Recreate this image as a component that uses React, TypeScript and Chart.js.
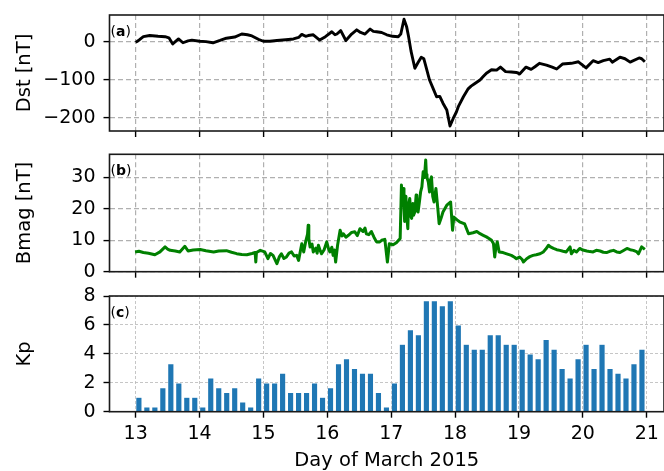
import React, { useEffect, useRef } from 'react';
import { Chart, registerables } from 'chart.js';

Chart.register(...registerables);

// ---------- data ----------
const xTicks = [13, 14, 15, 16, 17, 18, 19, 20, 21];
const xTitle = 'Day of March 2015';

const dstTicks = [0, -100, -200];
const dstTime = [
  13.0, 13.06, 13.12, 13.22, 13.35, 13.46, 13.52, 13.58, 13.67, 13.74, 13.82, 13.88,
  14.0, 14.1, 14.21, 14.32, 14.42, 14.55, 14.66, 14.75, 14.82, 14.92,
  15.0, 15.1, 15.21, 15.35, 15.47, 15.55, 15.6, 15.66, 15.7, 15.78, 15.88, 15.97,
  16.07, 16.12, 16.15, 16.21, 16.29, 16.38, 16.46, 16.52, 16.59, 16.67, 16.72, 16.77, 16.85, 16.93,
  17.02, 17.11, 17.15, 17.2, 17.24, 17.27, 17.31, 17.37, 17.42, 17.47, 17.51, 17.55, 17.6, 17.66,
  17.71, 17.76, 17.81, 17.87, 17.92, 17.97,
  18.02, 18.05, 18.13, 18.2, 18.25, 18.31, 18.39, 18.44, 18.49, 18.57, 18.65, 18.71, 18.79, 18.88, 18.96,
  19.01, 19.11, 19.19, 19.25, 19.32, 19.43, 19.52, 19.59, 19.68, 19.82, 19.93,
  20.05, 20.16, 20.24, 20.32, 20.42, 20.46, 20.58, 20.66, 20.74, 20.88, 20.92, 20.97,
];
const dstValues = [
  -2, 5, 13, 16, 14, 13, 10, -6, 7, -3, 2, 4,
  1, 0, -3, 3, 9, 12, 20, 18, 15, 6,
  1, 1, 3, 5, 7, 11, 19, 14, 16, 18, 4, 13,
  26, 18, 20, 29, 3, 20, 31, 24, 20, 33, 27, 26, 24, 18,
  14, 13, 20, 59, 40, 15, -25, -70, -55, -41, -45, -70, -101, -125,
  -145, -144, -162, -180, -222, -202,
  -185, -171, -145, -125, -117, -110, -101, -92, -83, -74, -75, -67, -79, -80, -81,
  -85, -67, -73, -66, -57, -62, -67, -72, -59, -57, -53,
  -69, -50, -55, -50, -46, -54, -41, -45, -54, -43, -45, -53,
];

const bmagTicks = [0, 10, 20, 30];
const bmagTime = [
  12.99, 13.05, 13.12, 13.2, 13.3, 13.38, 13.46, 13.5, 13.54, 13.62, 13.69, 13.77, 13.82, 13.9,
  14.01, 14.1, 14.22, 14.3, 14.42, 14.5, 14.58, 14.66, 14.74, 14.82, 14.87, 14.88, 14.89, 14.95,
  15.02, 15.07, 15.11, 15.15, 15.21, 15.25, 15.28, 15.32, 15.36, 15.4, 15.44, 15.48, 15.52, 15.55,
  15.6, 15.63, 15.66, 15.69, 15.7, 15.71, 15.73, 15.76, 15.78, 15.82, 15.84, 15.86, 15.89, 15.91, 15.95, 15.99,
  16.02, 16.04, 16.07, 16.09, 16.11, 16.13, 16.16, 16.2, 16.23, 16.25, 16.29, 16.33, 16.38, 16.43,
  16.47, 16.51, 16.56, 16.59, 16.61, 16.65, 16.69, 16.73, 16.77, 16.82, 16.85, 16.9, 16.94, 16.97,
  17.03, 17.08, 17.14, 17.16, 17.17, 17.19, 17.2, 17.21, 17.23, 17.24, 17.26, 17.27, 17.29, 17.31,
  17.32, 17.34, 17.35, 17.37, 17.39, 17.4, 17.42, 17.44, 17.46, 17.48, 17.5, 17.52, 17.54, 17.55,
  17.56, 17.58, 17.6, 17.61, 17.63, 17.65, 17.67, 17.7, 17.73, 17.75, 17.78, 17.81, 17.87, 17.93,
  17.96, 17.98,
  18.03, 18.07, 18.15, 18.21, 18.28, 18.34, 18.39, 18.44, 18.49, 18.53, 18.57, 18.6, 18.62, 18.64,
  18.66, 18.69, 18.75, 18.82, 18.88, 18.93, 18.96,
  19.01, 19.05, 19.07, 19.12, 19.17, 19.22, 19.27, 19.33, 19.38, 19.42, 19.46, 19.5, 19.54, 19.59,
  19.64, 19.69, 19.74, 19.8, 19.82, 19.86, 19.9, 19.95,
  20.0, 20.06, 20.11, 20.16, 20.21, 20.27, 20.32, 20.37, 20.42, 20.48, 20.53, 20.58, 20.63, 20.69,
  20.74, 20.79, 20.84, 20.87, 20.92, 20.97,
];
const bmagValues = [
  6.3, 6.5, 6.1, 5.9, 5.4, 6.3, 7.9, 7.2, 6.8, 6.6, 6.3, 8.1, 6.6, 6.9,
  7.1, 6.7, 6.3, 6.6, 6.7, 6.2, 5.75, 5.5, 5.4, 5.8, 6.1, 3.1, 6.1, 6.8,
  6.3, 4.15, 5.8, 5.2, 2.55, 4.8, 5.7, 4.2, 4.7, 5.9, 6.3, 5.0, 5.2, 3.6,
  8.9, 6.3, 9.5, 12.0, 14.8, 10.5, 7.9, 8.8, 6.3, 7.5, 5.9, 8.4, 6.6, 5.7, 7.0, 9.5,
  7.2, 6.3, 7.8, 5.2, 6.9, 3.1, 8.4, 13.2, 11.4, 12.1, 11.0, 11.6, 12.5, 12.7,
  11.5, 13.7, 12.8, 13.9, 12.1, 11.8, 12.8, 11.0, 9.5, 9.5, 10.0, 10.3, 3.1, 8.9,
  8.6, 9.2, 10.6, 27.6, 22.0, 26.5, 20.5, 16.0, 24.0, 18.5, 13.7, 21.0, 23.3, 17.5,
  17.0, 21.7, 18.0, 19.0, 24.4, 20.0, 19.0, 22.0, 25.4, 27.0, 31.8, 30.0, 35.6, 31.0,
  30.0, 28.6, 25.4, 29.0, 30.2, 24.0, 22.2, 26.5, 20.0, 15.3, 17.0, 19.0, 21.2, 22.2,
  13.2, 17.4,
  16.5, 15.9, 15.2, 12.1, 12.4, 12.8, 12.1, 11.6, 11.1, 10.6, 10.0, 9.0, 4.7, 8.0,
  9.5, 6.3, 6.1, 5.6, 5.2, 4.6, 4.15,
  4.7, 3.9, 3.1, 4.15, 4.8, 5.2, 5.4, 5.7, 6.3, 7.2, 8.4, 7.8, 7.4, 7.0,
  6.8, 6.5, 6.3, 7.9, 5.7, 6.8, 6.3, 7.4,
  6.9, 6.6, 6.4, 6.3, 6.8, 6.6, 6.2, 6.1, 6.5, 6.8, 6.3, 6.1, 6.7, 7.4,
  7.0, 6.8, 6.4, 5.7, 7.9, 7.1,
];

const kpTicks = [0, 2, 4, 6, 8];
const kpStart = 13; // first 3-hour interval (day of March)
const kpStepDays = 0.125; // 3-hour cadence
const kpBarWidthDays = 0.1;
const kpValues = [
  1.0, 0.33, 0.33, 1.67, 3.33, 2.0, 1.0, 1.0,
  0.33, 2.33, 1.67, 1.33, 1.67, 0.67, 0.33, 2.33,
  2.0, 2.0, 2.67, 1.33, 1.33, 1.33, 2.0, 1.0,
  1.67, 3.33, 3.67, 3.0, 2.67, 2.67, 1.33, 0.33,
  2.0, 4.67, 5.67, 5.33, 7.67, 7.67, 7.33, 7.67,
  6.0, 4.67, 4.33, 4.33, 5.33, 5.33, 4.67, 4.67,
  4.33, 4.0, 3.67, 5.0, 4.33, 3.0, 2.33, 3.67,
  4.67, 3.0, 4.67, 3.0, 2.67, 2.33, 3.33, 4.33,
];

// ---------- style ----------
const FONT = "'DejaVu Sans', 'Liberation Sans', sans-serif";
const TICK_SIZE = 19;
const TITLE_SIZE = 19.5;
const X_MIN = 12.59;
const X_MAX = 21.27;
const Y_AXIS_WIDTH = 109.5;
const W = 664;

type GridStyle = { color: string; width: number; dash: number[] };
const gridAB: GridStyle = { color: '#b0b0b0', width: 1.2, dash: [5, 3] };
const gridC: GridStyle = { color: '#b8b8b8', width: 0.8, dash: [3, 2] };

function xScale(height: number, showLabels: boolean, g: GridStyle) {
  return {
    type: 'linear',
    min: X_MIN,
    max: X_MAX,
    offset: false,
    afterBuildTicks: (s: any) => {
      s.ticks = xTicks.map((v) => ({ value: v }));
    },
    afterFit: (s: any) => {
      s.height = height;
      s.paddingLeft = 0;
      s.paddingRight = 0;
    },
    grid: {
      color: g.color,
      lineWidth: g.width,
      offset: false,
      drawTicks: true,
      tickLength: 6,
      tickColor: '#000',
      tickWidth: 1.4,
      tickBorderDash: [],
    },
    border: { display: false, dash: g.dash },
    ticks: {
      display: showLabels,
      autoSkip: false,
      maxRotation: 0,
      padding: 5,
      color: '#000',
      font: { family: FONT, size: TICK_SIZE },
      callback: (v: any) => String(v),
    },
    title: showLabels
      ? {
          display: true,
          text: xTitle,
          color: '#000',
          font: { family: FONT, size: TITLE_SIZE, lineHeight: 1 },
          padding: { top: 0, bottom: 0 },
        }
      : { display: false },
  };
}

function yScale(min: number, max: number, ticks: number[], title: string, g: GridStyle) {
  return {
    type: 'linear',
    min,
    max,
    afterBuildTicks: (s: any) => {
      s.ticks = ticks.map((v) => ({ value: v }));
    },
    afterFit: (s: any) => {
      s.width = Y_AXIS_WIDTH;
      s.paddingTop = 0;
      s.paddingBottom = 0;
    },
    grid: {
      color: g.color,
      lineWidth: g.width,
      drawTicks: true,
      tickLength: 6,
      tickColor: '#000',
      tickWidth: 1.4,
      tickBorderDash: [],
    },
    border: { display: false, dash: g.dash },
    ticks: {
      autoSkip: false,
      padding: 8,
      color: '#000',
      font: { family: FONT, size: TICK_SIZE },
      callback: (v: any) => (v < 0 ? '\u2212' + Math.abs(v) : String(v)),
    },
    title: {
      display: true,
      text: title,
      color: '#000',
      font: { family: FONT, size: TITLE_SIZE, lineHeight: 1 },
      padding: { top: 15, bottom: 0 },
    },
  };
}

function panelPlugin(letter: string) {
  return {
    id: 'panelDecor' + letter,
    afterDraw(chart: any) {
      const { ctx, chartArea } = chart;
      const { left, top, right, bottom } = chartArea;
      ctx.save();
      ctx.setLineDash([]);
      ctx.strokeStyle = '#1a1a1a';
      ctx.lineWidth = 1.6;
      ctx.strokeRect(left, top, right - left, bottom - top);
      ctx.fillStyle = '#000';
      ctx.textBaseline = 'alphabetic';
      ctx.textAlign = 'left';
      let x = left + 1;
      const y = top + 20.5;
      ctx.font = `14px ${FONT}`;
      ctx.fillText('(', x, y);
      x += ctx.measureText('(').width;
      ctx.font = `bold 14px ${FONT}`;
      ctx.fillText(letter, x, y);
      x += ctx.measureText(letter).width;
      ctx.font = `14px ${FONT}`;
      ctx.fillText(')', x, y);
      ctx.restore();
    },
  };
}

function baseOptions(padTop: number) {
  return {
    responsive: false,
    animation: false,
    devicePixelRatio: 1,
    layout: { padding: { top: padTop, left: 0, right: 0, bottom: 0 } },
    plugins: { legend: { display: false }, tooltip: { enabled: false } },
    events: [],
  };
}

const PANELS = {
  a: { top: 0, height: 141 },
  b: { top: 141, height: 141 },
  c: { top: 282, height: 189 },
};

export default function App() {
  const refA = useRef<HTMLCanvasElement>(null);
  const refB = useRef<HTMLCanvasElement>(null);
  const refC = useRef<HTMLCanvasElement>(null);

  useEffect(() => {
    const dstData = dstTime.map((t, i) => ({ x: t, y: dstValues[i] }));
    const bmagData = bmagTime.map((t, i) => ({ x: t, y: bmagValues[i] }));
    const kpData = kpValues.map((v, i) => ({
      x: kpStart + i * kpStepDays + kpBarWidthDays / 2,
      y: v,
    }));

    const chartA = new Chart(refA.current as HTMLCanvasElement, {
      type: 'line',
      data: {
        datasets: [
          {
            data: dstData,
            borderColor: '#000',
            borderWidth: 2.9,
            pointRadius: 0,
            tension: 0,
            borderJoinStyle: 'round',
            fill: false,
          },
        ],
      },
      options: {
        ...baseOptions(15),
        scales: {
          x: xScale(10, false, gridAB),
          y: yScale(-235, 70, dstTicks, 'Dst [nT]', gridAB),
        },
      } as any,
      plugins: [panelPlugin('a')],
    } as any);

    const chartB = new Chart(refB.current as HTMLCanvasElement, {
      type: 'line',
      data: {
        datasets: [
          {
            data: bmagData,
            borderColor: '#008000',
            borderWidth: 3,
            pointRadius: 0,
            tension: 0,
            borderJoinStyle: 'round',
            fill: false,
          },
        ],
      },
      options: {
        ...baseOptions(13.3),
        scales: {
          x: xScale(10.3, false, gridAB),
          y: yScale(0, 37.4, bmagTicks, 'Bmag [nT]', gridAB),
        },
      } as any,
      plugins: [panelPlugin('b')],
    } as any);

    const chartC = new Chart(refC.current as HTMLCanvasElement, {
      type: 'bar',
      data: {
        datasets: [
          {
            data: kpData,
            backgroundColor: '#1f77b4',
            borderColor: 'rgba(255,255,255,0.45)',
            borderWidth: 0.6,
            categoryPercentage: 1,
            barPercentage: kpBarWidthDays / kpStepDays,
          },
        ],
      },
      options: {
        ...baseOptions(14),
        scales: {
          x: xScale(189 - 129.7, true, gridC),
          y: yScale(0, 8, kpTicks, 'Kp', gridC),
        },
      } as any,
      plugins: [panelPlugin('c')],
    } as any);

    return () => {
      chartA.destroy();
      chartB.destroy();
      chartC.destroy();
    };
  }, []);

  const canvasStyle = (p: { top: number; height: number }) => ({
    position: 'absolute' as const,
    left: 0,
    top: p.top,
    width: W,
    height: p.height,
    display: 'block',
  });

  return (
    <div
      style={{
        position: 'fixed',
        left: 0,
        top: 0,
        width: W,
        height: 471,
        overflow: 'hidden',
        background: '#fff',
      }}
    >
      <canvas ref={refA} width={W} height={PANELS.a.height} style={canvasStyle(PANELS.a)} />
      <canvas ref={refB} width={W} height={PANELS.b.height} style={canvasStyle(PANELS.b)} />
      <canvas ref={refC} width={W} height={PANELS.c.height} style={canvasStyle(PANELS.c)} />
    </div>
  );
}
